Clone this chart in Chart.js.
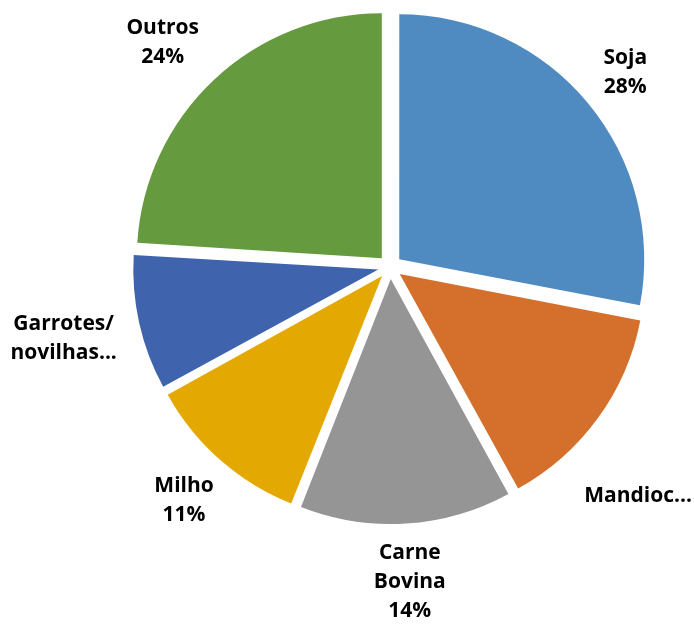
<!DOCTYPE html>
<html>
<head>
<meta charset="utf-8">
<script src="https://cdn.jsdelivr.net/npm/chart.js@4"></script>
<style>
    html, body { margin: 0; padding: 0; background: #ffffff; }
    #wrap { position: relative; width: 694px; height: 627px; }
</style>
</head>
<body>
<div id="wrap"><canvas id="pieChart"></canvas></div>
<script>
// Categories and shares (%), clockwise from 12 o'clock
const categories = ["Soja", "Mandioca", "Carne Bovina", "Milho", "Garrotes/novilhas", "Outros"];
const shares = [28, 14, 14, 11, 9, 24];
// Data labels as shown on the chart (some are truncated, without percentage)
const labelLines = [
    ["Soja", "28%"],
    ["Mandioc..."],
    ["Carne", "Bovina", "14%"],
    ["Milho", "11%"],
    ["Garrotes/", "novilhas..."],
    ["Outros", "24%"],
];
const sliceColors = ["#4F8BC0", "#D4702C", "#959595", "#E3A902", "#3F64AD", "#659A3E"];

document.addEventListener("DOMContentLoaded", () => {
    const explode = 12;        // px each slice is pulled out
    const labelGap = 13;
    const lineHeight = 29;
    const font = "bold 21px 'Open Sans', Lato, sans-serif";
    // small manual nudges for labels Excel pushed around
    const labelNudge = { 1: [0, 40], 4: [-6, 0], 5: [-11, 6] };

    // Chart.js grows small exploded slices a little; undo that so all share one radius.
    const evenRadius = {
        id: "evenRadius",
        beforeDatasetsDraw(chart) {
            const meta = chart.getDatasetMeta(0);
            const base = meta.controller.outerRadius;
            meta.data.forEach((arc) => {
                const circ = arc.endAngle - arc.startAngle;
                const fix = 1 - Math.sin(Math.min(Math.PI, circ));
                arc.outerRadius = base - explode * fix;
            });
        },
    };

    // Helper: draw the outside data labels for each slice.
    const outsideLabels = {
        id: "outsideLabels",
        afterDatasetsDraw(chart) {
            const ctx = chart.ctx;
            const meta = chart.getDatasetMeta(0);
            const radius = meta.controller.outerRadius;
            ctx.save();
            ctx.font = font;
            ctx.fillStyle = "#000000";
            ctx.textAlign = "center";
            ctx.textBaseline = "middle";
            meta.data.forEach((arc, i) => {
                const lines = labelLines[i];
                const w = Math.max(...lines.map((l) => ctx.measureText(l).width));
                const h = lines.length * lineHeight;
                const a = (arc.startAngle + arc.endAngle) / 2;
                const c = Math.cos(a), s = Math.sin(a);
                const dist = radius + explode + labelGap + Math.abs(c) * w / 2 + Math.abs(s) * h / 2;
                let x = arc.x + c * dist;
                let y = arc.y + s * dist;
                x = Math.min(Math.max(x, w / 2 + 2), chart.width - w / 2 - 2);
                if (labelNudge[i]) {
                    x += labelNudge[i][0];
                    y += labelNudge[i][1];
                }
                lines.forEach((line, k) => {
                    ctx.fillText(line, x, y - h / 2 + lineHeight * (k + 0.5));
                });
            });
            ctx.restore();
        },
    };

    const ctx = document.getElementById("pieChart").getContext("2d");
    new Chart(ctx, {
        type: "pie",
        data: {
            labels: categories,
            datasets: [
                {
                    data: shares,
                    backgroundColor: sliceColors,
                    borderWidth: 0,
                    offset: explode * 4,
                },
            ],
        },
        options: {
            responsive: true,
            maintainAspectRatio: false,
            animation: false,
            radius: 245,
            layout: { padding: { left: 86, right: 0, top: 0, bottom: 93 } },
            plugins: {
                legend: { display: false },
                tooltip: { enabled: false },
            },
        },
        plugins: [evenRadius, outsideLabels],
    });
});
</script>
</body>
</html>
